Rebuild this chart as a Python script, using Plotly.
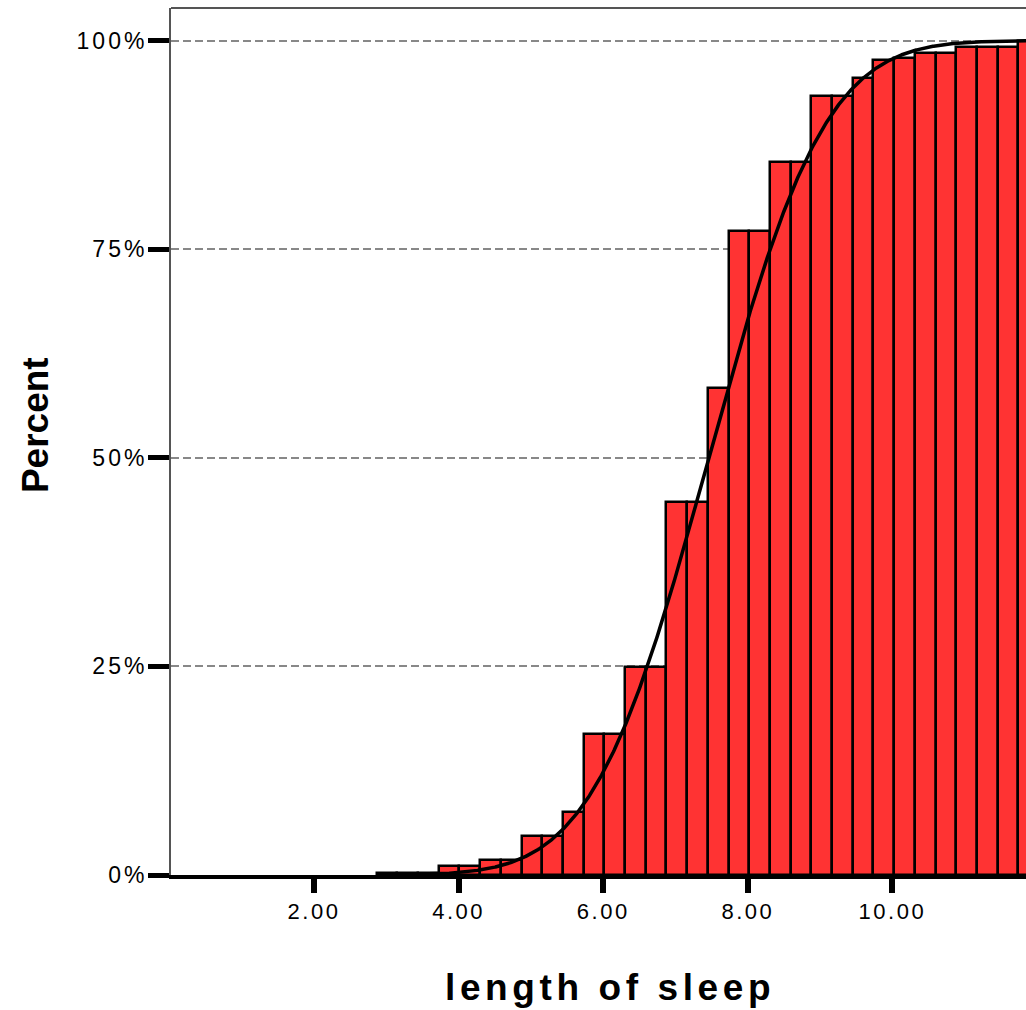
import math
import plotly.graph_objects as go

# Cumulative histogram of sleep length (hours) with a fitted normal CDF
bin_mid = [3.010, 3.296, 3.583, 3.869, 4.155, 4.442, 4.728, 5.014, 5.300, 5.587,
           5.873, 6.159, 6.446, 6.732, 7.018, 7.305, 7.591, 7.877, 8.164, 8.450,
           8.736, 9.022, 9.309, 9.595, 9.881, 10.168, 10.454, 10.740, 11.027, 11.313,
           11.599, 11.886, 12.172]
bin_width = 0.2863
cum_percent = [0.3, 0.3, 0.3, 1.1, 1.1, 1.8, 1.8, 4.7, 4.7, 7.6,
               16.9, 16.9, 24.9, 24.9, 44.7, 44.7, 58.4, 77.2, 77.2, 85.4,
               85.4, 93.4, 93.4, 95.5, 97.7, 97.9, 98.5, 98.5, 99.2, 99.2,
               99.2, 100.0, 100.0]

# fitted normal distribution
fit_mean = 7.46
fit_sd = 1.26
curve_x = [2.87 + 0.01 * i for i in range(1000)]
curve_y = [50.0 * (1.0 + math.erf((x - fit_mean) / (fit_sd * math.sqrt(2)))) for x in curve_x]

x_ticks = [2, 4, 6, 8, 10]
x_tick_text = ["2.00", "4.00", "6.00", "8.00", "10.00"]
y_ticks = [0, 25, 50, 75, 100]
y_tick_text = ["0%", "25%", "50%", "75%", "100%"]

FONT = "Arial, Liberation Sans, sans-serif"


def spaced(s, px):
    return f'<span style="letter-spacing:{px}px">{s}</span>'


fig = go.Figure()
fig.add_trace(go.Bar(
    x=bin_mid, y=cum_percent, width=bin_width,
    marker=dict(color="#FF3333", line=dict(color="black", width=2.5)),
    hoverinfo="x+y",
))
fig.add_trace(go.Scatter(
    x=curve_x, y=curve_y, mode="lines",
    line=dict(color="black", width=3.5),
))

fig.update_layout(
    width=1026, height=1010,
    margin=dict(l=171, r=0, t=8, b=135),
    paper_bgcolor="white", plot_bgcolor="white",
    showlegend=False,
    bargap=0,
    font=dict(family=FONT, color="black"),
)

fig.update_xaxes(
    range=[0.022, 11.848],
    tickvals=x_ticks, ticktext=[spaced(t, 2.5) for t in x_tick_text],
    tickfont=dict(size=22, color="black", family=FONT),
    ticks="outside", ticklen=14, tickwidth=6, tickcolor="black",
    showline=True, linecolor="black", linewidth=4,
    showgrid=False, zeroline=False,
)
fig.update_yaxes(
    range=[0, 103.9],
    tickvals=y_ticks, ticktext=[spaced(t, 3) for t in y_tick_text],
    tickfont=dict(size=23, color="black", family=FONT),
    ticks="outside", ticklen=21, tickwidth=5, tickcolor="black",
    ticklabelstandoff=-4,
    showline=True, linecolor="#555555", linewidth=2,
    showgrid=True, gridcolor="#888888", gridwidth=2, griddash="8px,4px",
    zeroline=False,
)

# top border of the frame
fig.add_shape(type="line", xref="paper", yref="paper", x0=0, x1=1, y0=1, y1=1,
              line=dict(color="#555555", width=2))

fig.add_annotation(
    text=spaced("length of sleep", 4.6), xref="paper", yref="paper",
    x=0.513, y=-0.130, xanchor="center", yanchor="middle", showarrow=False,
    font=dict(size=37, family=FONT, color="black", weight="bold"),
)
fig.add_annotation(
    text="Percent", xref="paper", yref="paper", textangle=-90,
    x=-0.159, y=0.519, xanchor="center", yanchor="middle", showarrow=False,
    font=dict(size=37, family=FONT, color="black", weight="bold"),
)

fig.write_html("out.html")
